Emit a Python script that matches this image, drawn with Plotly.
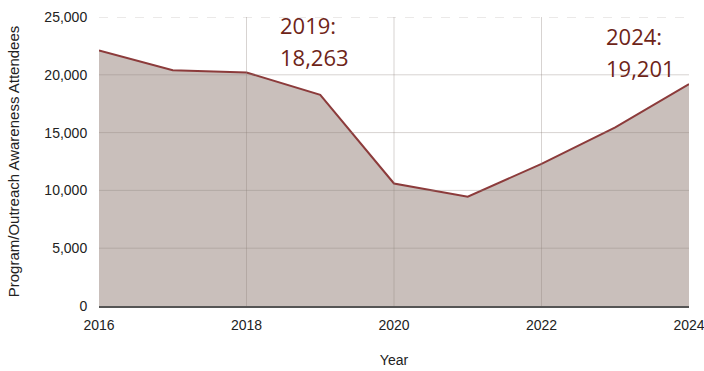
import plotly.graph_objects as go

# Annual program/outreach awareness attendance
years = [2016, 2017, 2018, 2019, 2020, 2021, 2022, 2023, 2024]
attendees = [22100, 20400, 20200, 18263, 10600, 9450, 12300, 15450, 19201]

x_ticks = [2016, 2018, 2020, 2022, 2024]
y_ticks = [0, 5000, 10000, 15000, 20000, 25000]

callout_years = [2019, 2024]
callout_values = [18263, 19201]

line_color = "#8c3b3b"
fill_color = "#c9bfbb"
grid_color = "rgba(140,128,124,0.35)"
text_font = "Liberation Sans, Arial, sans-serif"

fig = go.Figure()
fig.add_trace(go.Scatter(
    x=years, y=attendees, mode="lines",
    line=dict(color=line_color, width=2),
    fill="tozeroy", fillcolor=fill_color,
    hoverinfo="x+y", showlegend=False,
))

# Gridlines drawn over the filled area so they stay visible
for xv in x_ticks[1:-1]:
    fig.add_shape(type="line", xref="x", yref="paper", x0=xv, x1=xv, y0=0, y1=1,
                  line=dict(color=grid_color, width=1), layer="above")
for yv in y_ticks[1:]:
    fig.add_shape(type="line", xref="paper", yref="y", x0=0, x1=1, y0=yv, y1=yv,
                  line=dict(color=grid_color, width=1,
                            dash="dash" if yv == y_ticks[-1] else "solid"),
                  layer="above")

# Callout labels for selected years: year on one line, value below
callout_pos = {2019: (2018.43, 24350, 21500), 2024: (2022.85, 23400, 20550)}
for yr, val in zip(callout_years, callout_values):
    xpos, y_top, y_bottom = callout_pos[yr]
    for txt, ypos in ((f"{yr}:", y_top), (f"{val:,}", y_bottom)):
        fig.add_annotation(
            x=xpos, y=ypos, xanchor="left", yanchor="middle",
            text=txt, showarrow=False,
            font=dict(family="Open Sans, sans-serif", size=22, color="#6e2418"),
        )

fig.update_layout(
    width=704, height=371,
    margin=dict(l=99, r=15, t=17, b=65),
    paper_bgcolor="white", plot_bgcolor="white",
    font=dict(family=text_font, size=14, color="#222222"),
    xaxis=dict(
        range=[2016, 2024], tickvals=x_ticks, automargin=False,
        ticklabeloverflow="allow",
        showgrid=False, zeroline=False,
        showline=True, linecolor="#555555", linewidth=1.5,
        ticks="outside", ticklen=5, tickcolor="rgba(0,0,0,0)",
        tickfont=dict(size=14, color="#222222"),
        title=dict(text="Year", font=dict(size=14), standoff=24),
    ),
    yaxis=dict(
        range=[0, 25000], tickvals=y_ticks, automargin=False,
        tickformat=",", showgrid=False, zeroline=False, showline=False,
        ticks="outside", ticklen=8, tickcolor="rgba(0,0,0,0)",
        tickfont=dict(size=14, color="#222222"),
        title=dict(text="Program/Outreach Awareness Attendees",
                   font=dict(size=15), standoff=21),
    ),
)

fig.write_html("out.html")
